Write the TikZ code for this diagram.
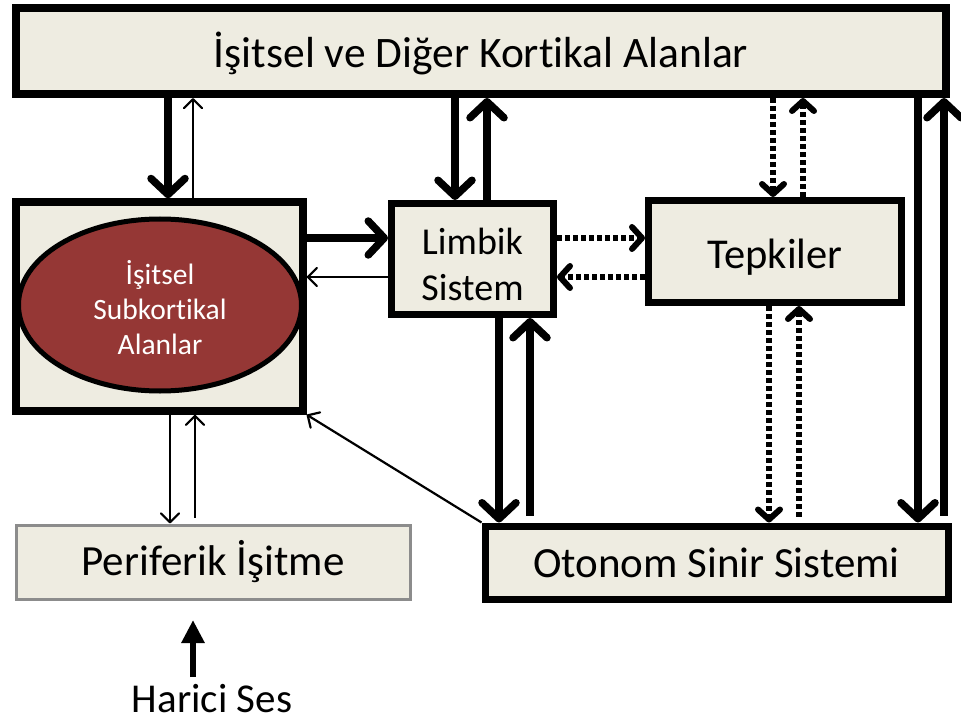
\documentclass[tikz,border=0pt]{standalone}
\usepackage{fontspec}
\setmainfont[Ligatures=CommonOff]{Carlito}
\usetikzlibrary{arrows.meta,shapes.geometric}
\definecolor{boxfill}{HTML}{EEECE1}
\definecolor{ellfill}{HTML}{953735}
\definecolor{grayedge}{HTML}{8C8C8C}
\newcommand{\shiftdown}[2]{\raisebox{-#1}[\height][\depth]{#2}}
\begin{document}
\begin{tikzpicture}[x=1pt,y=-1pt,
  box/.style={draw=black, fill=boxfill, line width=8pt, inner sep=0pt, align=center},
  thk/.style={line width=7.5pt, -{Straight Barb[length=16pt,width=34pt,round]}},
  thn/.style={line width=2.2pt, -{Straight Barb[length=9pt,width=18pt,round]}},
  dts/.style={line width=6pt, dash pattern=on 5pt off 3pt, -{Straight Barb[length=10pt,width=22pt,round]}},
]
\useasboundingbox[fill=white] (0,0) rectangle (961,722);

% boxes
\node[box, minimum width=930pt, minimum height=86pt, font=\fontsize{43.5}{52}\selectfont] (top) at (481,51) {\shiftdown{2pt}{İşitsel ve Diğer Kortikal Alanlar}};
\node[box, line width=7.5pt, minimum width=287pt, minimum height=209pt] (sub) at (159.5,306.5) {};
\node[ellipse, draw=black, line width=5pt, fill=ellfill, text=white, minimum width=283pt, minimum height=172pt, inner sep=0pt, align=center, font=\fontsize{29.5}{35}\selectfont] (ell) at (160,305) {\shiftdown{3pt}{\parbox{200pt}{\centering İşitsel\\Subkortikal\\Alanlar}}};
\node[box, line width=7pt, minimum width=162pt, minimum height=111pt, font=\fontsize{38}{46}\selectfont] (lim) at (472.5,259) {\shiftdown{5pt}{\parbox{150pt}{\centering Limbik\\Sistem}}};
\node[box, line width=7pt, minimum width=253pt, minimum height=102pt, font=\fontsize{42.5}{50}\selectfont] (tep) at (775,251.5) {\shiftdown{6pt}{Tepkiler}};
\node[box, line width=7pt, minimum width=463pt, minimum height=73pt, font=\fontsize{43}{52}\selectfont] (oto) at (716.5,562.5) {Otonom Sinir Sistemi};
\node[box, draw=grayedge, line width=3pt, minimum width=394pt, minimum height=74pt, font=\fontsize{43}{52}\selectfont] (per) at (213,562) {Periferik İşitme};
\node[inner sep=0pt, anchor=base, font=\fontsize{41}{49}\selectfont] (har) at (212,712) {Harici Ses};

% x / y guides
\coordinate (a1) at (168,0);
\coordinate (a2) at (193,0);
\coordinate (a3) at (455,0);
\coordinate (a4) at (487,0);
\coordinate (a5) at (773,0);
\coordinate (a6) at (803,0);
\coordinate (a7) at (918,0);
\coordinate (a8) at (944,0);
\coordinate (b1) at (170,0);
\coordinate (b2) at (195,0);
\coordinate (c1) at (499,0);
\coordinate (c2) at (530,0);
\coordinate (c3) at (769,0);
\coordinate (c4) at (799,0);
\coordinate (h1) at (0,238);
\coordinate (h2) at (0,277);
\coordinate (hs) at (193,677);
\coordinate (he) at (193,620);

% connectors with top box
\draw[thk] (top.south -| a1) -- (sub.north -| a1);
\draw[thn] (sub.north -| a2) -- (top.south -| a2);
\draw[thk] (top.south -| a3) -- (lim.north -| a3);
\draw[thk] (lim.north -| a4) -- (top.south -| a4);
\draw[dts] (top.south -| a5) -- (tep.north -| a5);
\draw[dts] (tep.north -| a6) -- (top.south -| a6);
\draw[thk] (top.south -| a7) -- (oto.north -| a7);
\draw[thk, shorten <=7pt] (oto.north -| a8) -- (top.south -| a8);

% horizontal
\draw[thk] (sub.east |- h1) -- (lim.west |- h1);
\draw[thn] (lim.west |- h2) -- (sub.east |- h2);
\draw[dts] (lim.east |- h1) -- (tep.west |- h1);
\draw[dts] (tep.west |- h2) -- (lim.east |- h2);

% to Otonom
\draw[thk] (lim.south -| c1) -- (oto.north -| c1);
\draw[thk, shorten <=7pt] (oto.north -| c2) -- (lim.south -| c2);
\draw[dts] (tep.south -| c3) -- (oto.north -| c3);
\draw[dts, shorten <=6pt] (oto.north -| c4) -- (tep.south -| c4);
\draw[thn] (oto.north west) -- (sub.south east);

% peripheral
\draw[thn] (sub.south -| b1) -- (per.north -| b1);
\draw[thn, shorten <=6pt] (per.north -| b2) -- (sub.south -| b2);
\draw[line width=6pt, -{Triangle[length=23pt,width=22pt]}] (hs) -- (he);
\end{tikzpicture}
\end{document}
